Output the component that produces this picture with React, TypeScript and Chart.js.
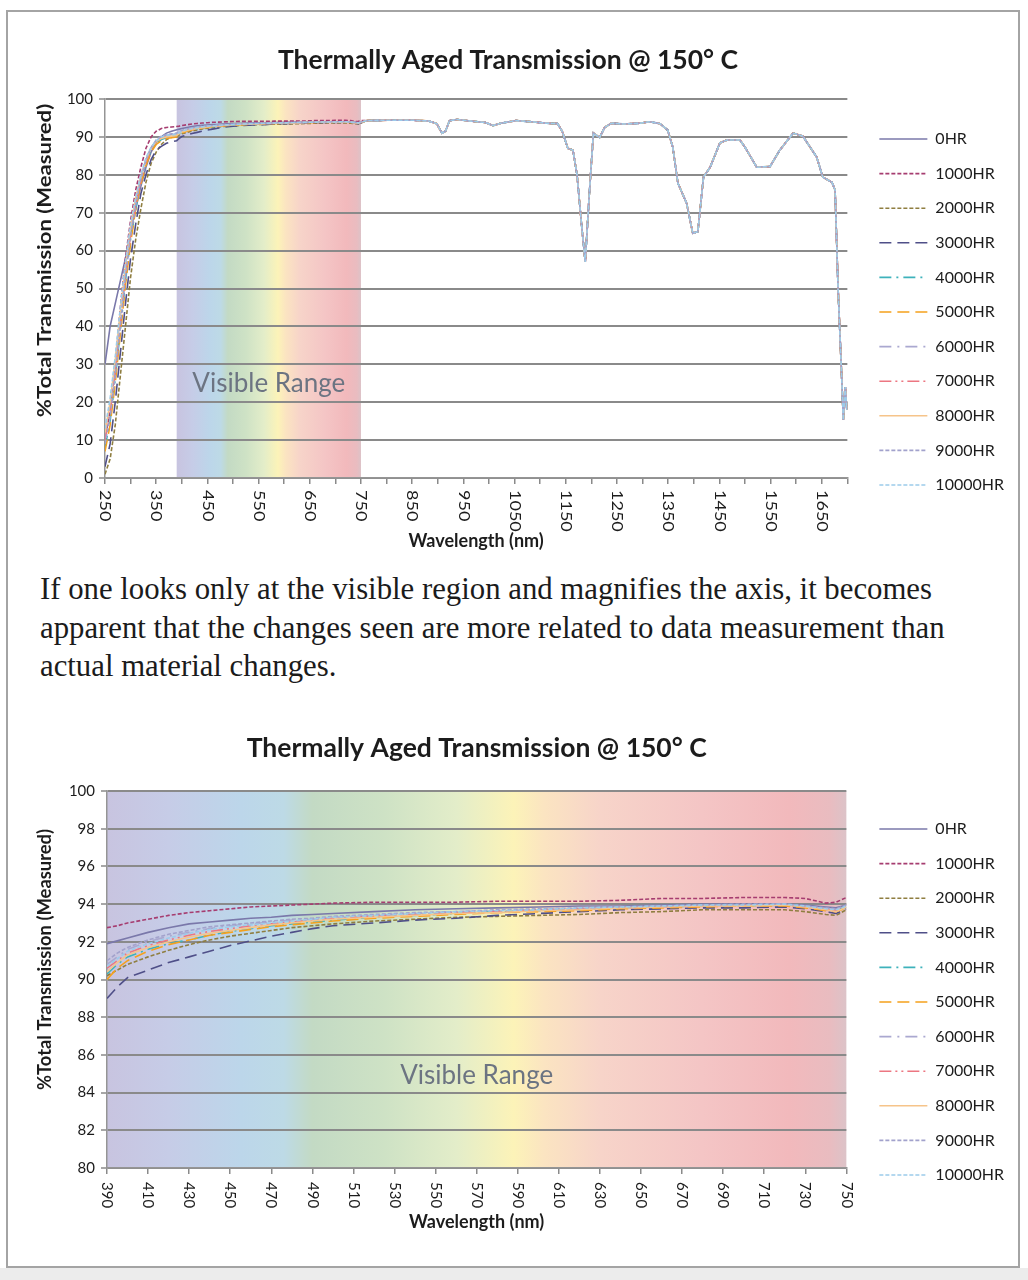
import React, { useEffect, useLayoutEffect, useRef } from 'react';
import { Chart, registerables } from 'chart.js';

Chart.register(...registerables);

// ---------------- DATA ----------------
const seriesNames = ['0HR', '1000HR', '2000HR', '3000HR', '4000HR', '5000HR', '6000HR', '7000HR', '8000HR', '9000HR', '10000HR'];

const uvWavelengths = [250, 260, 270, 280, 290, 300, 310, 320, 330, 340, 350, 360, 370, 380];
const visWavelengths = [390, 395, 400, 410, 420, 430, 440, 450, 460, 470, 480, 490, 500, 520, 540, 560, 580, 600, 620, 640, 660, 680, 700, 720, 730, 740, 745, 750];
const nirWavelengths = [762, 802, 852, 882, 898, 908, 915, 923, 938, 963, 993, 1008, 1023, 1053, 1083, 1113, 1134, 1143, 1154, 1164, 1172, 1180, 1188, 1196, 1204, 1216, 1226, 1239, 1264, 1294, 1314, 1334, 1349, 1359, 1369, 1386, 1398, 1408, 1419, 1432, 1451, 1465, 1490, 1500, 1523, 1549, 1568, 1594, 1613, 1640, 1652, 1670, 1676, 1682, 1690, 1692, 1696, 1699, 1700];

// Near-infrared part: all aging times overlap there
const nirShared = [94.3, 94.4, 94.4, 94.2, 93.5, 91.0, 91.5, 94.3, 94.6, 94.2, 93.8, 93.0, 93.6, 94.3, 94.0, 93.6, 93.5, 91.5, 87.0, 86.5, 80.0, 68.0, 57.0, 75.0, 91.0, 89.8, 92.5, 93.6, 93.4, 93.6, 94.0, 93.5, 91.8, 87.3, 77.8, 72.5, 64.6, 65.0, 79.4, 82.0, 88.4, 89.2, 89.2, 87.3, 82.0, 82.2, 86.5, 91.0, 90.2, 84.7, 79.4, 78.0, 76.0, 49.6, 23.0, 15.3, 24.0, 18.0, 20.0];

// UV edge (250-380 nm)
const uv0HR = [30, 40, 46, 52, 58, 65, 71, 77, 82, 86, 88.5, 90, 91, 91.5];
const uv1000HR = [10, 18, 30, 45, 58, 68, 76, 82, 87, 90, 91.5, 92.2, 92.5, 92.6];
const uv2000HR = [1, 5, 14, 27, 40, 53, 63, 71, 78, 83, 86, 88, 89.3, 89.9];
const uv3000HR = [3, 9, 20, 33, 46, 58, 67, 75, 80, 84, 86.5, 87.5, 88.3, 88.7];
const uv4000HR = [8, 15, 26, 39, 52, 63, 71, 78, 83, 86.5, 88.3, 89.3, 89.8, 90.1];
const uv5000HR = [7, 14, 25, 38, 51, 62, 71, 77.5, 82.5, 86, 88, 89, 89.6, 89.8];
const uv6000HR = [11, 19, 30, 43, 55, 65, 73, 79, 84, 87, 89, 90, 90.4, 90.6];
const uv7000HR = [10, 17, 28, 41, 54, 64, 72, 78.5, 83.5, 86.8, 88.7, 89.7, 90.2, 90.4];
const uv8000HR = [12, 20, 31, 44, 56, 66, 74, 79.5, 84, 87, 88.8, 89.6, 90.0, 90.2];
const uv9000HR = [9, 16, 27, 40, 53, 64, 72, 79, 84, 87.2, 89.2, 90.2, 90.6, 90.8];
const uv10000HR = [13, 21, 32, 45, 57, 67, 74, 80, 84.5, 87.3, 89, 90, 90.4, 90.5];

// Visible region (390-750 nm)
const vis0HR = [91.9, 92.05, 92.2, 92.5, 92.75, 92.95, 93.05, 93.15, 93.25, 93.3, 93.4, 93.45, 93.5, 93.6, 93.7, 93.75, 93.8, 93.85, 93.9, 93.9, 93.95, 94.0, 94.0, 94.0, 93.95, 93.85, 93.8, 93.95];
const vis1000HR = [92.75, 92.85, 93.0, 93.2, 93.4, 93.55, 93.65, 93.75, 93.85, 93.9, 93.95, 94.0, 94.05, 94.1, 94.1, 94.1, 94.15, 94.15, 94.15, 94.2, 94.3, 94.3, 94.35, 94.35, 94.3, 94.05, 94.1, 94.35];
const vis2000HR = [90.2, 90.5, 90.8, 91.2, 91.55, 91.85, 92.1, 92.3, 92.45, 92.6, 92.75, 92.85, 92.95, 93.1, 93.2, 93.3, 93.35, 93.4, 93.45, 93.55, 93.6, 93.7, 93.7, 93.7, 93.6, 93.45, 93.4, 93.7];
const vis3000HR = [89.0, 89.6, 90.1, 90.5, 90.9, 91.2, 91.5, 91.8, 92.05, 92.3, 92.5, 92.7, 92.85, 93.0, 93.15, 93.25, 93.4, 93.5, 93.6, 93.7, 93.75, 93.8, 93.8, 93.85, 93.75, 93.6, 93.5, 93.75];
const vis4000HR = [90.3, 90.8, 91.2, 91.6, 91.9, 92.1, 92.35, 92.55, 92.7, 92.85, 92.95, 93.05, 93.15, 93.3, 93.4, 93.5, 93.6, 93.65, 93.7, 93.8, 93.85, 93.9, 93.9, 93.95, 93.85, 93.7, 93.65, 93.85];
const vis5000HR = [90.0, 90.6, 91.0, 91.5, 91.85, 92.1, 92.35, 92.5, 92.65, 92.8, 92.9, 93.0, 93.1, 93.25, 93.35, 93.45, 93.55, 93.6, 93.65, 93.75, 93.8, 93.85, 93.9, 93.9, 93.8, 93.65, 93.6, 93.8];
const vis6000HR = [90.8, 91.2, 91.6, 92.0, 92.3, 92.5, 92.7, 92.85, 92.95, 93.05, 93.15, 93.2, 93.3, 93.4, 93.5, 93.6, 93.65, 93.7, 93.75, 93.85, 93.9, 93.95, 93.95, 94.0, 93.9, 93.75, 93.7, 93.9];
const vis7000HR = [90.6, 91.0, 91.4, 91.8, 92.1, 92.35, 92.55, 92.7, 92.85, 92.95, 93.05, 93.15, 93.25, 93.35, 93.45, 93.55, 93.6, 93.7, 93.75, 93.8, 93.85, 93.9, 93.95, 93.95, 93.85, 93.7, 93.65, 93.9];
const vis8000HR = [90.4, 90.9, 91.3, 91.7, 92.0, 92.25, 92.45, 92.6, 92.75, 92.9, 93.0, 93.1, 93.2, 93.3, 93.4, 93.5, 93.55, 93.65, 93.7, 93.8, 93.85, 93.9, 93.9, 93.95, 93.85, 93.7, 93.6, 93.85];
const vis9000HR = [91.0, 91.4, 91.7, 92.1, 92.4, 92.6, 92.8, 92.9, 93.0, 93.1, 93.2, 93.25, 93.35, 93.45, 93.55, 93.6, 93.7, 93.75, 93.8, 93.85, 93.9, 93.95, 94.0, 94.0, 93.9, 93.8, 93.75, 93.95];
const vis10000HR = [90.7, 91.1, 91.5, 91.9, 92.2, 92.45, 92.65, 92.8, 92.9, 93.0, 93.1, 93.2, 93.3, 93.4, 93.5, 93.6, 93.65, 93.7, 93.8, 93.85, 93.9, 93.95, 93.95, 94.0, 93.9, 93.75, 93.7, 93.9];

const uvSeries = [uv0HR, uv1000HR, uv2000HR, uv3000HR, uv4000HR, uv5000HR, uv6000HR, uv7000HR, uv8000HR, uv9000HR, uv10000HR];
const visSeries = [vis0HR, vis1000HR, vis2000HR, vis3000HR, vis4000HR, vis5000HR, vis6000HR, vis7000HR, vis8000HR, vis9000HR, vis10000HR];

// Axis ticks
const topMajorTicks = [250, 350, 450, 550, 650, 750, 850, 950, 1050, 1150, 1250, 1350, 1450, 1550, 1650];
const topTickLabels = ['250', '350', '450', '550', '650', '750', '850', '950', '1050', '1150', '1250', '1350', '1450', '1550', '1650'];
const topMinorTicks = [300, 400, 500, 600, 700, 800, 900, 1000, 1100, 1200, 1300, 1400, 1500, 1600, 1700];
const bottomTicks = [390, 410, 430, 450, 470, 490, 510, 530, 550, 570, 590, 610, 630, 650, 670, 690, 710, 730, 750];
const bottomTickLabels = ['390', '410', '430', '450', '470', '490', '510', '530', '550', '570', '590', '610', '630', '650', '670', '690', '710', '730', '750'];

const visibleBand = [390, 750];
const chartTitle = 'Thermally Aged Transmission @ 150\u00B0 C';
const xTitle = 'Wavelength (nm)';
const yTitle = '%Total Transmission (Measured)';
const bandLabel = 'Visible Range';

const paragraphLines = [
  'If one looks only at the visible region and magnifies the axis, it becomes',
  'apparent that the changes seen are more related to data measurement than',
  'actual material changes.',
];

// ---------------- STYLES ----------------
const FONT = 'Lato, "Open Sans", "DejaVu Sans", sans-serif';
const TEXT = '#1c1c1c';
const GRID = '#8a8a8a';
const seriesColors = ['#7a78aa', '#a63d70', '#8f7e40', '#4f4f88', '#3eb2bb', '#f5a11d', '#aaa8d0', '#ec7681', '#f6c48a', '#a2a2cc', '#9ccbea'];
const seriesDash: number[][] = [[], [4, 2], [4, 2], [12, 6], [12, 5, 2, 5], [12, 6], [12, 6, 2, 6], [12, 4, 2, 4, 2, 4], [], [4, 2], [4, 2]];
const bandStops: [number, string][] = [
  [390, '#c8c4e0'], [420, '#c6cce7'], [455, '#bcd6ea'], [476, '#bddae6'], [490, '#c3dac4'],
  [525, '#cee2c5'], [560, '#e3edc9'], [588, '#fcf3b8'], [603, '#fbe4c1'], [630, '#f7d4c9'],
  [680, '#f4c5c5'], [722, '#f2b9bc'], [742, '#e9bcc0'], [750, '#dcc3c8'],
];

Chart.defaults.font.family = FONT;

function mkDataset(i: number, data: { x: number; y: number }[]) {
  return {
    label: seriesNames[i],
    data,
    borderColor: seriesColors[i],
    backgroundColor: seriesColors[i],
    borderWidth: 1.6,
    borderDash: seriesDash[i],
    pointRadius: 0,
    pointHoverRadius: 0,
    fill: false,
    tension: 0,
    order: seriesNames.length - i,
  };
}

const allTopWavelengths = [...uvWavelengths, ...visWavelengths, ...nirWavelengths];
const topDatasets = seriesNames.map((_, i) => {
  const vals = [...uvSeries[i], ...visSeries[i], ...nirShared];
  return mkDataset(i, allTopWavelengths.map((x, k) => ({ x, y: vals[k] })));
});
const bottomDatasets = seriesNames.map((_, i) => mkDataset(i, visWavelengths.map((x, k) => ({ x, y: visSeries[i][k] }))));

type Cfg = {
  left: number; top: number; width: number; height: number;
  datasets: any[];
  xMin: number; xMax: number; xTicks: number[]; xLabelTicks: number[]; xLabels: string[];
  yMin: number; yMax: number; yStep: number;
  yAxisWidth: number; xAxisHeight: number;
  titlePad: { top: number; bottom: number }; titleFull: boolean;
  legendTitleH: number; gap: number; padRight: number;
  labelGap: number; stretch: number;
  xTitlePad: number; yTitleX: number; yTitleShift: number; yTitleSize: number;
  bandLabelY: number;
};

function legendLabels(chart: any) {
  const base = (Chart.defaults as any).plugins.legend.labels.generateLabels(chart);
  base.forEach((it: any) => {
    const ds = chart.data.datasets[it.datasetIndex];
    it.lineDash = ds.borderDash;
    it.strokeStyle = ds.borderColor;
    it.fillStyle = ds.borderColor;
    it.lineWidth = 1.6;
  });
  return base;
}

function buildConfig(c: Cfg): any {
  const decor = {
    id: 'decor',
    beforeDraw(chart: any) {
      const { ctx, chartArea } = chart;
      const xs = chart.scales.x;
      const x0 = xs.getPixelForValue(visibleBand[0]);
      const x1 = xs.getPixelForValue(visibleBand[1]);
      const g = ctx.createLinearGradient(x0, 0, x1, 0);
      bandStops.forEach(([nm, col]) => g.addColorStop((nm - visibleBand[0]) / (visibleBand[1] - visibleBand[0]), col));
      ctx.save();
      ctx.fillStyle = g;
      ctx.fillRect(x0, chartArea.top, x1 - x0, chartArea.bottom - chartArea.top);
      ctx.restore();
    },
    beforeDatasetsDraw(chart: any) {
      const { ctx } = chart;
      const xs = chart.scales.x;
      const ys = chart.scales.y;
      ctx.save();
      ctx.font = `26px ${FONT}`;
      ctx.fillStyle = '#6c7482';
      ctx.textAlign = 'center';
      ctx.textBaseline = 'middle';
      ctx.fillText(bandLabel, xs.getPixelForValue(570), ys.getPixelForValue(c.bandLabelY));
      ctx.restore();
    },
    afterDraw(chart: any) {
      const { ctx, chartArea } = chart;
      const xs = chart.scales.x;
      ctx.save();
      ctx.fillStyle = TEXT;
      ctx.font = `15px ${FONT}`;
      ctx.textAlign = 'left';
      ctx.textBaseline = 'middle';
      c.xLabelTicks.forEach((v, i) => {
        const px = xs.getPixelForValue(v);
        ctx.save();
        ctx.translate(px, chartArea.bottom + c.labelGap);
        ctx.rotate(Math.PI / 2);
        ctx.scale(c.stretch, 1);
        ctx.fillText(c.xLabels[i], 0, 0);
        ctx.restore();
      });
      const yc = (chartArea.top + chartArea.bottom) / 2 - c.yTitleShift;
      ctx.translate(c.yTitleX, yc);
      ctx.rotate(-Math.PI / 2);
      ctx.scale(c.stretch, 1);
      ctx.font = `bold ${c.yTitleSize}px ${FONT}`;
      ctx.textAlign = 'center';
      ctx.fillText(yTitle, 0, 0);
      ctx.restore();
    },
  };

  return {
    type: 'line',
    data: { datasets: c.datasets },
    plugins: [decor],
    options: {
      animation: false,
      responsive: false,
      maintainAspectRatio: false,
      events: [],
      layout: { padding: { left: 0, right: c.padRight, top: 0, bottom: 0 } },
      plugins: {
        tooltip: { enabled: false },
        title: {
          display: true,
          text: chartTitle,
          fullSize: c.titleFull,
          color: TEXT,
          font: { size: 26.5, weight: 'bold', family: FONT },
          padding: c.titlePad,
        },
        legend: {
          position: 'right',
          align: 'start',
          title: { display: true, text: '', font: { size: 10 }, padding: { top: c.legendTitleH - 12, bottom: 0 } },
          labels: {
            usePointStyle: true,
            pointStyle: 'line',
            pointStyleWidth: 48,
            color: TEXT,
            font: { size: 16, family: FONT },
            padding: 18.6,
            generateLabels: legendLabels,
            sort: (a: any, b: any) => a.datasetIndex - b.datasetIndex,
          },
        },
      },
      scales: {
        x: {
          type: 'linear',
          min: c.xMin,
          max: c.xMax,
          afterBuildTicks: (s: any) => { s.ticks = c.xTicks.map((v) => ({ value: v })); },
          afterFit: (s: any) => { s.height = c.xAxisHeight; },
          ticks: { color: 'rgba(0,0,0,0)', autoSkip: false, maxRotation: 90, minRotation: 90, font: { size: 15 } },
          grid: { display: true, drawOnChartArea: false, drawTicks: true, tickLength: 6, color: GRID, lineWidth: 1.5 },
          border: { display: true, color: '#959595', width: 1.5 },
          title: { display: true, text: xTitle, color: TEXT, font: { size: 18, weight: 'bold', family: FONT }, padding: { top: 0, bottom: c.xTitlePad } },
        },
        y: {
          type: 'linear',
          min: c.yMin,
          max: c.yMax,
          afterFit: (s: any) => { s.width = c.yAxisWidth; },
          ticks: { stepSize: c.yStep, color: TEXT, font: { size: 15 }, padding: 6 },
          grid: { color: GRID, lineWidth: 2, tickLength: 6, tickColor: GRID, tickWidth: 1.5 },
          border: { display: true, color: '#959595', width: 1.5 },
        },
        gap: {
          type: 'linear',
          position: 'right',
          display: true,
          afterFit: (s: any) => { s.width = c.gap; },
          ticks: { display: false },
          grid: { display: false },
          border: { display: false },
        },
      },
    },
  };
}

const topCfg: Cfg = {
  left: 2, top: 35, width: 1018, height: 525,
  datasets: topDatasets,
  xMin: 250, xMax: 1700,
  xTicks: [...topMajorTicks, ...topMinorTicks].sort((a, b) => a - b),
  xLabelTicks: topMajorTicks, xLabels: topTickLabels,
  yMin: 0, yMax: 100, yStep: 10,
  yAxisWidth: 103, xAxisHeight: 82,
  titlePad: { top: 9.1, bottom: 23.1 }, titleFull: true,
  legendTitleH: 77.4, gap: 13.4, padRight: 6,
  labelGap: 12, stretch: 1.2,
  xTitlePad: 8.2, yTitleX: 43, yTitleShift: 28, yTitleSize: 18.4,
  bandLabelY: 25,
};

const bottomCfg: Cfg = {
  left: 20, top: 718, width: 1000, height: 522,
  datasets: bottomDatasets,
  xMin: 390, xMax: 750,
  xTicks: bottomTicks, xLabelTicks: bottomTicks, xLabels: bottomTickLabels,
  yMin: 80, yMax: 100, yStep: 2,
  yAxisWidth: 87, xAxisHeight: 72,
  titlePad: { top: 14.1, bottom: 27.1 }, titleFull: false,
  legendTitleH: 84.4, gap: 14.4, padRight: 6,
  labelGap: 14, stretch: 1.0,
  xTitlePad: 7.2, yTitleX: 25, yTitleShift: 20, yTitleSize: 18.4,
  bandLabelY: 84.9,
};

function ChartCanvas({ cfg }: { cfg: Cfg }) {
  const ref = useRef<HTMLCanvasElement | null>(null);
  useEffect(() => {
    if (!ref.current) return;
    const chart = new Chart(ref.current, buildConfig(cfg));
    return () => chart.destroy();
  }, [cfg]);
  return (
    <canvas
      ref={ref}
      width={cfg.width}
      height={cfg.height}
      style={{ position: 'absolute', left: cfg.left, top: cfg.top, width: cfg.width, height: cfg.height, display: 'block' }}
    />
  );
}

function Paragraph() {
  const refs = useRef<(HTMLSpanElement | null)[]>([]);
  useLayoutEffect(() => {
    const first = refs.current[0];
    if (!first) return;
    const w = first.getBoundingClientRect().width;
    if (!w) return;
    const s = 892 / w;
    refs.current.forEach((el) => { if (el) el.style.transform = `scaleX(${s})`; });
  }, []);
  return (
    <div
      style={{
        position: 'absolute', left: 40, top: 569,
        fontFamily: '"Liberation Serif", "Times New Roman", serif',
        fontSize: 32, lineHeight: '38.5px', color: '#1b1b1b',
      }}
    >
      {paragraphLines.map((t, i) => (
        <div key={i} style={{ whiteSpace: 'nowrap', height: 38.5 }}>
          <span ref={(el) => { refs.current[i] = el; }} style={{ display: 'inline-block', transformOrigin: 'left center' }}>{t}</span>
        </div>
      ))}
    </div>
  );
}

export default function App() {
  return (
    <div style={{ position: 'absolute', left: 0, top: 0, width: 1028, height: 1280, background: '#ffffff', overflow: 'hidden' }}>
      <div style={{ position: 'absolute', left: 0, top: 1268, width: 1028, height: 12, background: '#ececec' }} />
      <div
        style={{
          position: 'absolute', left: 6, top: 10, width: 1014, height: 1258,
          border: '2px solid #a4a4a4', boxSizing: 'border-box', background: '#ffffff',
        }}
      />
      <ChartCanvas cfg={topCfg} />
      <Paragraph />
      <ChartCanvas cfg={bottomCfg} />
    </div>
  );
}
